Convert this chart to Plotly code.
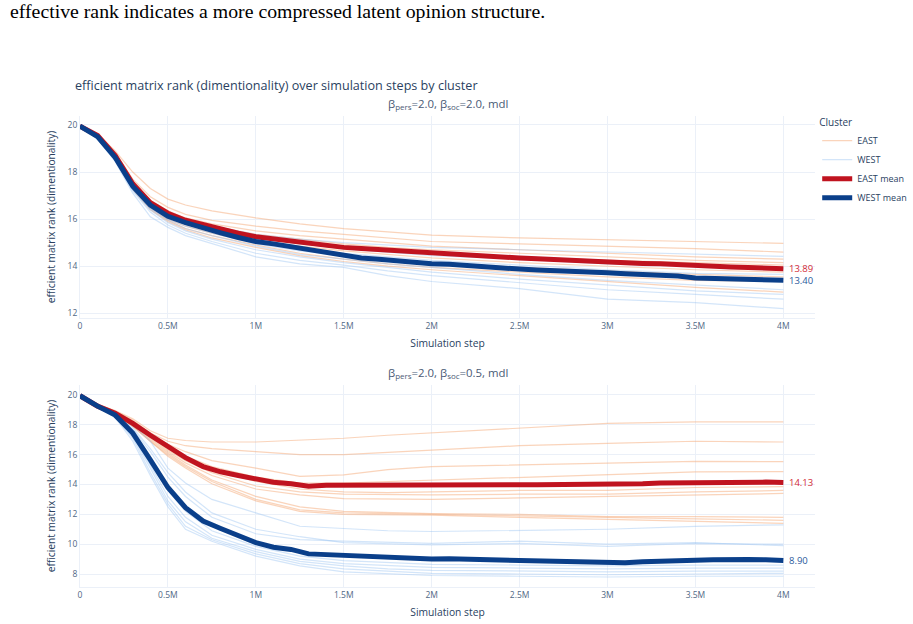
import plotly.graph_objects as go

# ---------------- data ----------------
# sampled simulation steps (millions) for the cluster means
MEAN_STEPS_M = [0.0, 0.1, 0.2, 0.3, 0.4, 0.5, 0.6, 0.7, 0.8, 0.9, 1.0,
                1.1, 1.2, 1.3, 1.4, 1.5, 1.6, 1.7, 1.8, 1.9, 2.0,
                2.1, 2.2, 2.3, 2.4, 2.5, 2.6, 2.7, 2.8, 2.9, 3.0,
                3.1, 3.2, 3.3, 3.4, 3.5, 3.6, 3.7, 3.8, 3.9, 4.0]
# sampled simulation steps (millions) for the individual runs
RUN_STEPS_M = [0.0, 0.1, 0.2, 0.3, 0.4, 0.5, 0.6, 0.75, 1.0, 1.25, 1.5,
               1.75, 2.0, 2.5, 3.0, 3.5, 4.0]

TOP_EAST_MEAN = [19.95, 19.55, 18.7, 17.5, 16.7, 16.25, 15.95, 15.75, 15.55, 15.4, 15.25,
                 15.15, 15.05, 14.98, 14.9, 14.8, 14.75, 14.7, 14.65, 14.6, 14.55,
                 14.52, 14.48, 14.45, 14.38, 14.35, 14.32, 14.28, 14.25, 14.22, 14.18,
                 14.15, 14.12, 14.1, 14.06, 14.02, 13.97, 13.97, 13.95, 13.92, 13.89]
TOP_WEST_MEAN = [19.95, 19.5, 18.62, 17.4, 16.6, 16.12, 15.85, 15.62, 15.42, 15.22, 15.05,
                 14.95, 14.82, 14.7, 14.6, 14.45, 14.35, 14.3, 14.22, 14.15, 14.1,
                 14.08, 14.02, 13.98, 13.92, 13.88, 13.84, 13.82, 13.78, 13.75, 13.72,
                 13.68, 13.65, 13.62, 13.58, 13.5, 13.48, 13.47, 13.45, 13.41, 13.40]
BOT_EAST_MEAN = [19.95, 19.25, 18.78, 18.1, 17.3, 16.5, 15.8, 15.2, 14.85, 14.6, 14.4,
                 14.15, 14.05, 13.88, 13.95, 13.95, 13.9, 13.95, 13.93, 13.92, 13.95,
                 13.95, 13.97, 13.96, 13.95, 13.98, 13.99, 14.0, 14.0, 14.02, 13.97,
                 13.98, 14.05, 14.1, 14.12, 14.15, 14.18, 14.2, 14.15, 14.16, 14.13]
BOT_WEST_MEAN = [19.95, 19.25, 18.65, 17.45, 15.65, 13.8, 12.45, 11.55, 11.05, 10.55, 10.1,
                 9.8, 9.65, 9.35, 9.3, 9.2, 9.15, 9.1, 9.05, 9.0, 9.0,
                 9.02, 9.0, 8.95, 8.9, 8.88, 8.87, 8.85, 8.83, 8.82, 8.8,
                 8.75, 8.82, 8.88, 8.92, 8.93, 8.95, 9.0, 8.98, 8.95, 8.90]

TOP_EAST_RUNS = [
    [20, 19.6, 18.9, 18.0, 17.3, 16.85, 16.6, 16.35, 16.05, 15.8, 15.6, 15.45, 15.32, 15.2, 15.12, 15.05, 14.97],
    [20, 19.55, 18.8, 17.7, 16.95, 16.5, 16.2, 15.95, 15.7, 15.5, 15.35, 15.2, 15.05, 14.95, 14.85, 14.75, 14.6],
    [20, 19.55, 18.75, 17.6, 16.8, 16.35, 16.05, 15.8, 15.5, 15.3, 15.15, 15.0, 14.85, 14.7, 14.55, 14.4, 14.3],
    [20, 19.55, 18.7, 17.5, 16.7, 16.25, 15.95, 15.7, 15.35, 15.15, 14.95, 14.8, 14.7, 14.55, 14.4, 14.25, 14.15],
    [20, 19.5, 18.65, 17.45, 16.65, 16.2, 15.9, 15.6, 15.25, 15.0, 14.85, 14.7, 14.55, 14.4, 14.25, 14.15, 14.05],
    [20, 19.5, 18.6, 17.4, 16.6, 16.1, 15.8, 15.5, 15.1, 14.85, 14.65, 14.5, 14.35, 14.15, 14.0, 13.85, 13.75],
    [20, 19.5, 18.6, 17.35, 16.5, 16.0, 15.7, 15.4, 15.0, 14.7, 14.45, 14.3, 14.15, 13.95, 13.8, 13.65, 13.55],
    [20, 19.5, 18.55, 17.3, 16.45, 15.95, 15.6, 15.3, 14.9, 14.55, 14.3, 14.1, 13.95, 13.75, 13.55, 13.4, 13.35],
    [20, 19.45, 18.5, 17.25, 16.4, 15.9, 15.55, 15.2, 14.8, 14.45, 14.2, 14.0, 13.85, 13.6, 13.35, 13.1, 12.9],
]
TOP_WEST_RUNS = [
    [20, 19.5, 18.65, 17.5, 16.7, 16.25, 15.95, 15.7, 15.35, 15.15, 15.0, 14.9, 14.8, 14.7, 14.6, 14.5, 14.42],
    [20, 19.5, 18.6, 17.4, 16.6, 16.15, 15.85, 15.55, 15.2, 14.95, 14.75, 14.6, 14.45, 14.3, 14.1, 14.0, 13.9],
    [20, 19.5, 18.6, 17.4, 16.55, 16.1, 15.8, 15.5, 15.1, 14.8, 14.55, 14.4, 14.25, 14.05, 13.85, 13.7, 13.65],
    [20, 19.45, 18.55, 17.35, 16.5, 16.0, 15.7, 15.4, 14.95, 14.65, 14.45, 14.25, 14.1, 13.85, 13.65, 13.5, 13.45],
    [20, 19.45, 18.55, 17.3, 16.45, 15.95, 15.6, 15.3, 14.85, 14.5, 14.3, 14.1, 13.95, 13.65, 13.4, 13.2, 13.0],
    [20, 19.45, 18.5, 17.25, 16.4, 15.85, 15.5, 15.15, 14.7, 14.4, 14.15, 13.95, 13.75, 13.45, 13.2, 12.95, 12.8],
    [20, 19.4, 18.5, 17.2, 16.3, 15.75, 15.4, 15.05, 14.55, 14.25, 14.05, 13.8, 13.6, 13.3, 13.0, 12.8, 12.6],
    [20, 19.4, 18.45, 17.1, 16.1, 15.65, 15.3, 14.95, 14.4, 14.1, 13.95, 13.6, 13.35, 13.05, 12.6, 12.45, 12.2],
]
BOT_EAST_RUNS = [
    [20, 19.35, 18.95, 18.4, 17.6, 17.1, 16.95, 16.85, 16.85, 16.95, 17.1, 17.3, 17.45, 17.8, 18.1, 18.2, 18.2],
    [20, 19.35, 18.9, 18.3, 17.45, 16.9, 16.6, 16.4, 16.2, 16.0, 16.0, 16.15, 16.3, 16.6, 16.75, 16.9, 16.85],
    [20, 19.3, 18.85, 18.2, 17.4, 16.7, 16.2, 15.6, 15.1, 14.55, 14.65, 15.0, 15.2, 15.3, 15.4, 15.55, 15.53],
    [20, 19.3, 18.85, 18.15, 17.3, 16.5, 15.9, 15.2, 14.5, 14.1, 14.1, 14.2, 14.3, 14.5, 14.7, 14.85, 14.86],
    [20, 19.3, 18.8, 18.1, 17.25, 16.4, 15.7, 15.0, 14.2, 13.7, 13.5, 13.45, 13.5, 13.6, 13.6, 13.8, 13.86],
    [20, 19.3, 18.8, 18.05, 17.2, 16.3, 15.6, 14.8, 13.9, 13.5, 13.35, 13.3, 13.3, 13.35, 13.35, 13.5, 13.6],
    [20, 19.3, 18.75, 18.0, 17.1, 16.2, 15.45, 14.6, 13.7, 13.3, 13.05, 13.0, 13.0, 13.1, 13.2, 13.35, 13.4],
    [20, 19.3, 18.75, 17.95, 17.0, 16.1, 15.3, 14.3, 13.2, 12.5, 12.2, 12.1, 12.05, 12.0, 11.85, 11.85, 11.8],
    [20, 19.3, 18.7, 17.9, 16.9, 16.0, 15.2, 14.2, 13.0, 12.3, 12.1, 12.05, 12.0, 11.9, 11.75, 11.7, 11.6],
    [20, 19.3, 18.7, 17.9, 16.9, 15.9, 15.1, 14.05, 12.9, 12.2, 12.0, 12.0, 11.95, 11.8, 11.65, 11.55, 11.4],
]
BOT_WEST_RUNS = [
    [20, 19.3, 18.75, 18.0, 16.9, 15.1, 14.1, 13.0, 12.1, 11.2, 11.05, 10.9, 10.85, 10.95, 11.0, 11.2, 11.3],
    [20, 19.3, 18.7, 17.8, 16.4, 14.8, 13.5, 12.1, 11.0, 10.5, 10.1, 10.0, 9.95, 10.05, 9.85, 10.05, 10.0],
    [20, 19.3, 18.7, 17.7, 16.2, 14.5, 13.2, 11.8, 10.7, 10.3, 10.2, 10.1, 10.05, 10.2, 10.0, 10.1, 9.9],
    [20, 19.25, 18.65, 17.5, 15.6, 13.6, 12.2, 10.9, 9.85, 9.2, 8.9, 8.75, 8.65, 8.6, 8.55, 8.6, 8.6],
    [20, 19.25, 18.6, 17.3, 15.3, 13.2, 11.8, 10.6, 9.65, 9.0, 8.7, 8.55, 8.45, 8.4, 8.35, 8.4, 8.4],
    [20, 19.25, 18.6, 17.2, 15.1, 12.9, 11.5, 10.4, 9.5, 8.85, 8.55, 8.35, 8.25, 8.2, 8.15, 8.2, 8.2],
    [20, 19.2, 18.55, 17.1, 14.8, 12.7, 11.2, 10.3, 9.35, 8.7, 8.35, 8.2, 8.05, 8.0, 7.95, 8.0, 8.05],
    [20, 19.2, 18.5, 16.9, 14.6, 12.5, 11.0, 10.2, 9.2, 8.55, 8.15, 8.0, 7.9, 7.85, 7.8, 7.85, 7.85],
]

PANEL_TITLES = ["β<sub>pers</sub>=2.0, β<sub>soc</sub>=2.0, mdl",
                "β<sub>pers</sub>=2.0, β<sub>soc</sub>=0.5, mdl"]

# ---------------- styles ----------------
EAST_RUN_COLOR = "rgba(245,170,120,0.5)"
WEST_RUN_COLOR = "rgba(150,192,240,0.42)"
EAST_MEAN_COLOR = "#C0131F"
WEST_MEAN_COLOR = "#0A3F8A"
EAST_LABEL_COLOR = "#D22A37"
WEST_LABEL_COLOR = "#2B5A9C"
FONT = "Open Sans, verdana, arial, sans-serif"
TXT = "#2a3f5f"

run_x = [s * 1e6 for s in RUN_STEPS_M]
mean_x = [s * 1e6 for s in MEAN_STEPS_M]

fig = go.Figure()

panels = [
    ("x", "y", TOP_EAST_RUNS, TOP_WEST_RUNS, TOP_EAST_MEAN, TOP_WEST_MEAN, True),
    ("x2", "y2", BOT_EAST_RUNS, BOT_WEST_RUNS, BOT_EAST_MEAN, BOT_WEST_MEAN, False),
]

for xa, ya, er, wr, em, wm, show in panels:
    for runs, name, col in [(er, "EAST", EAST_RUN_COLOR), (wr, "WEST", WEST_RUN_COLOR)]:
        for i, r in enumerate(runs):
            fig.add_trace(go.Scatter(
                x=run_x, y=r, mode="lines", name=name, legendgroup=name,
                showlegend=(show and i == 0), line=dict(color=col, width=1.2),
                xaxis=xa, yaxis=ya, hoverinfo="skip"))
    for vals, name, col, lcol in [(em, "EAST mean", EAST_MEAN_COLOR, EAST_LABEL_COLOR),
                                  (wm, "WEST mean", WEST_MEAN_COLOR, WEST_LABEL_COLOR)]:
        fig.add_trace(go.Scatter(
            x=mean_x, y=vals, mode="lines", name=name, legendgroup=name,
            showlegend=show, line=dict(color=col, width=5),
            xaxis=xa, yaxis=ya))
        fig.add_annotation(x=mean_x[-1], y=vals[-1], xref=xa, yref=ya,
                           text=f"{vals[-1]:.2f}", showarrow=False,
                           xanchor="left", yanchor="middle", xshift=4,
                           font=dict(size=9.5, color=lcol, family=FONT))

TOP_DOM = [0.5711, 1.0]
BOT_DOM = [0.0, 0.4289]

axis_common = dict(showgrid=True, gridcolor="#EBF0F8", zeroline=True,
                   zerolinecolor="#EBF0F8", zerolinewidth=2, automargin=False,
                   tickfont=dict(size=8.5, color="#506784", family=FONT), ticks="",
                   linecolor="#EBF0F8")
xtitle = dict(text="Simulation step", font=dict(size=10.3, color=TXT), standoff=9)
ytitle = dict(text="efficient matrix rank (dimentionality)", font=dict(size=10.2, color=TXT), standoff=9)

fig.update_layout(
    width=913, height=624,
    margin=dict(l=80, r=98, t=116, b=37, autoexpand=False),
    paper_bgcolor="white", plot_bgcolor="white",
    font=dict(family=FONT, color=TXT, size=9),
    title=dict(text="efficient matrix rank (dimentionality) over simulation steps by cluster",
               x=75 / 913, xanchor="left", y=1 - 86 / 624, yanchor="middle",
               font=dict(size=12.6, color=TXT, family=FONT)),
    xaxis=dict(domain=[0, 1], anchor="y", range=[0, 4.18e6], title=xtitle, **axis_common),
    yaxis=dict(domain=TOP_DOM, anchor="x", range=[11.8, 20.38], dtick=2, title=ytitle, **axis_common),
    xaxis2=dict(domain=[0, 1], anchor="y2", range=[0, 4.18e6], title=xtitle, **axis_common),
    yaxis2=dict(domain=BOT_DOM, anchor="x2", range=[7.13, 20.67], dtick=2, title=ytitle, **axis_common),
    legend=dict(x=1.003, y=1.006, xanchor="left", yanchor="top", tracegroupgap=0,
                title=dict(text="Cluster", font=dict(size=10, color=TXT)),
                font=dict(size=9, color=TXT), bgcolor="rgba(0,0,0,0)"),
)

for dom, t in zip([TOP_DOM, BOT_DOM], PANEL_TITLES):
    fig.add_annotation(x=0.5, y=dom[1], xref="paper", yref="paper", text=t,
                       showarrow=False, xanchor="center", yanchor="bottom", yshift=2,
                       font=dict(size=11.4, color="#4a5a75", family=FONT))

# caption text from the surrounding page
fig.add_annotation(x=(8 - 80) / 735, y=(587 - 11) / 471, xref="paper", yref="paper",
                   text="effective rank indicates a more compressed latent opinion structure.",
                   showarrow=False, xanchor="left", yanchor="middle",
                   font=dict(size=19.8, color="black", family="Liberation Serif, Times New Roman, serif"))

fig.write_html("out.html")
